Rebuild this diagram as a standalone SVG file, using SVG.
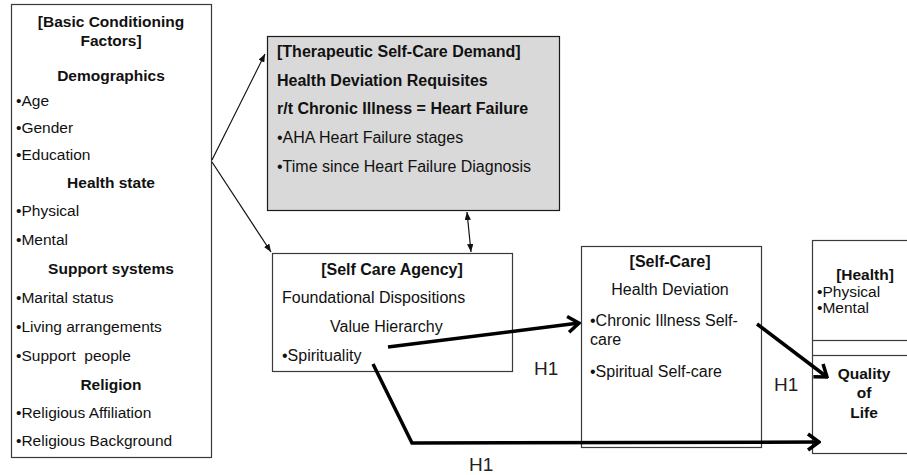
<svg xmlns="http://www.w3.org/2000/svg" width="907" height="475" viewBox="0 0 907 475">
<style>
.box{fill:#fff;stroke:#3a3a3a;stroke-width:1.2}
.grey{fill:#d9d9d9;stroke:#1a1a1a;stroke-width:1.2}
text{font-family:"Liberation Sans",Arial,sans-serif;font-size:15.5px;fill:#111}
.b{font-weight:bold}
.c{text-anchor:middle}
.t16{font-size:16px}
.h1{font-size:19px;fill:#222}
.thin{stroke:#111;stroke-width:1.2;fill:none}
.thick{stroke:#000;stroke-width:3.5;fill:none;stroke-linejoin:miter}
</style>
<defs>
<marker id="tri" viewBox="0 0 10 8" refX="10" refY="4" markerWidth="8" markerHeight="6.4" markerUnits="userSpaceOnUse" orient="auto-start-reverse">
<path d="M0,0 L10,4 L0,8 z" fill="#111"/>
</marker>
<marker id="chev" viewBox="0 0 16 20" refX="14" refY="10" markerWidth="16" markerHeight="20" markerUnits="userSpaceOnUse" orient="auto">
<path d="M3,2 L14,10 L3,18" fill="none" stroke="#000" stroke-width="3.5"/>
</marker>
</defs>

<g id="basic-conditioning-factors">
<rect class="box" x="11.5" y="4.5" width="200" height="453"/>
<text class="b c" x="111" y="27">[Basic Conditioning</text>
<text class="b c" x="111" y="46">Factors]</text>
<text class="b c" x="111" y="81">Demographics</text>
<text x="16" y="106">•Age</text>
<text x="16" y="133">•Gender</text>
<text x="16" y="160">•Education</text>
<text class="b c" x="111" y="188">Health state</text>
<text x="16" y="216">•Physical</text>
<text x="16" y="245">•Mental</text>
<text class="b c" x="111" y="274">Support systems</text>
<text x="16" y="303">•Marital status</text>
<text x="16" y="332">•Living arrangements</text>
<text x="16" y="361" xml:space="preserve">•Support  people</text>
<text class="b c" x="111" y="390">Religion</text>
<text x="16" y="418">•Religious Affiliation</text>
<text x="16" y="446">•Religious Background</text>
</g>

<g id="therapeutic-self-care-demand">
<rect class="grey" x="267.5" y="36.5" width="292" height="174"/>
<text class="b t16" x="277" y="57">[Therapeutic Self-Care Demand]</text>
<text class="b t16" x="277" y="86">Health Deviation Requisites</text>
<text class="b t16" x="277" y="114">r/t Chronic Illness = Heart Failure</text>
<text class="t16" x="277" y="143">•AHA Heart Failure stages</text>
<text class="t16" x="277" y="172">•Time since Heart Failure Diagnosis</text>
</g>

<g id="self-care-agency">
<rect class="box" x="272.5" y="253.5" width="240" height="118"/>
<text class="b c t16" x="392" y="275">[Self Care Agency]</text>
<text class="t16" x="282" y="303">Foundational Dispositions</text>
<text class="t16" x="330" y="332">Value Hierarchy</text>
<text class="t16" x="282" y="361">•Spirituality</text>
</g>

<g id="self-care">
<rect class="box" x="581.5" y="246.5" width="180" height="201"/>
<text class="b c t16" x="670" y="267">[Self-Care]</text>
<text class="c t16" x="670" y="295">Health Deviation</text>
<text class="t16" x="590" y="326">•Chronic Illness Self-</text>
<text class="t16" x="590" y="345">care</text>
<text class="t16" x="590" y="377">•Spiritual Self-care</text>
</g>

<g id="health">
<rect class="box" x="812.5" y="240.5" width="100" height="100"/>
<text class="b c" x="865" y="280">[Health]</text>
<text x="817" y="297">•Physical</text>
<text x="817" y="313">•Mental</text>
</g>

<g id="quality-of-life">
<rect class="box" x="812.5" y="355.5" width="100" height="98"/>
<line class="box" x1="812.5" y1="340.5" x2="812.5" y2="355.5"/>
<text class="b c" x="864" y="379">Quality</text>
<text class="b c" x="864" y="398">of</text>
<text class="b c" x="864" y="418">Life</text>
</g>

<g id="connectors">
<line class="thin" x1="212" y1="160" x2="265" y2="54" marker-end="url(#tri)"/>
<line class="thin" x1="212" y1="162" x2="271" y2="252" marker-end="url(#tri)"/>
<line class="thin" x1="467" y1="212" x2="471" y2="252" marker-start="url(#tri)" marker-end="url(#tri)"/>
<line class="thick" x1="388" y1="347" x2="579" y2="323" marker-end="url(#chev)"/>
<polyline class="thick" points="373,364 412,443 819,442" marker-end="url(#chev)"/>
<line class="thick" x1="757" y1="324" x2="827" y2="377" marker-end="url(#chev)"/>
<text class="h1" x="534" y="375">H1</text>
<text class="h1" x="774" y="391">H1</text>
<text class="h1" x="469" y="471">H1</text>
</g>
</svg>
